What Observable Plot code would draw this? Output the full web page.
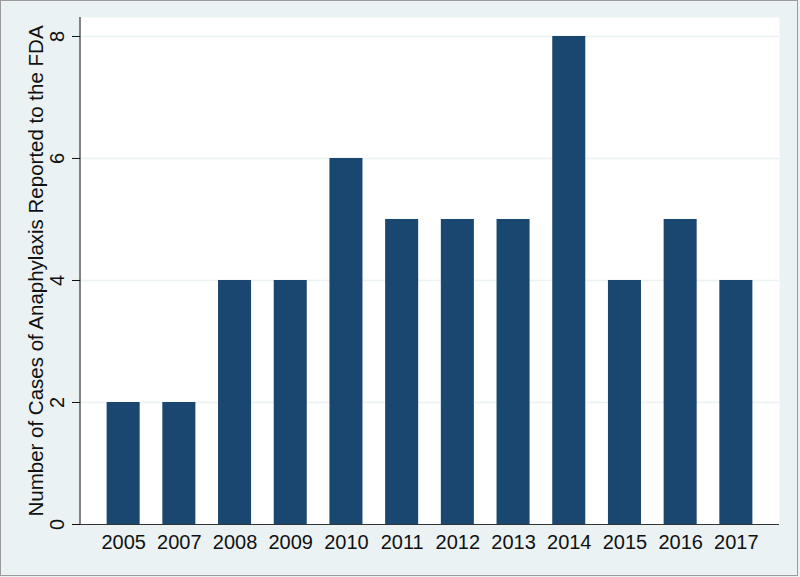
<!DOCTYPE html>
<html>
<head>
<meta charset="utf-8">
<script src="https://cdn.jsdelivr.net/npm/d3@7"></script>
<script src="https://cdn.jsdelivr.net/npm/@observablehq/plot@0.6"></script>
<style>
  html, body { margin: 0; padding: 0; background: #eaf2f3; }
  #wrap { position: relative; width: 800px; height: 577px; }
  #border { position: absolute; left: 0; top: 0; width: 798px; height: 576px; border: 1px solid #9a9a9a; box-sizing: border-box; pointer-events: none; }
</style>
</head>
<body>
<div id="wrap"><div id="chart"></div><div id="border"></div></div>
<script>
const years = ["2005", "2007", "2008", "2009", "2010", "2011", "2012", "2013", "2014", "2015", "2016", "2017"];
const cases = [2, 2, 4, 4, 6, 5, 5, 5, 8, 4, 5, 4];
const yTicks = [0, 2, 4, 6, 8];
const gridTicks = [2, 4, 6, 8];
const yTitle = "Number of Cases of Anaphylaxis Reported to the FDA";

const data = years.map((y, i) => ({year: y, cases: cases[i]}));

const leftLine = (index, scales, values, dims) => {
  const ns = "http://www.w3.org/2000/svg";
  const l = document.createElementNS(ns, "line");
  l.setAttribute("x1", dims.marginLeft);
  l.setAttribute("x2", dims.marginLeft);
  l.setAttribute("y1", dims.marginTop);
  l.setAttribute("y2", dims.height - dims.marginBottom);
  l.setAttribute("stroke", "#111");
  l.setAttribute("stroke-width", 1);
  return l;
};

const chart = Plot.plot({
  width: 800,
  height: 577,
  marginLeft: 80,
  marginRight: 21,
  marginTop: 17,
  marginBottom: 53,
  style: {background: "#eaf2f3", fontFamily: "'Liberation Sans', Arial, Helvetica, sans-serif", fontSize: "20px", color: "#111"},
  x: {domain: years, type: "band", paddingInner: 0.407, paddingOuter: 0.478, round: false, label: null},
  y: {domain: [0, 8.311], label: null},
  marks: [
    Plot.frame({fill: "white", stroke: "none"}),
    Plot.gridY(gridTicks, {stroke: "#eaf2f3", strokeOpacity: 1, strokeWidth: 1.5}),
    Plot.barY(data, {x: "year", y: "cases", fill: "#1a476f"}),
    Plot.ruleY([0], {stroke: "#333", strokeWidth: 1}),
    leftLine,
    Plot.axisY({ticks: yTicks, tickSize: 8, tickFormat: () => "", label: null, stroke: "#111"}),
    Plot.text(yTicks, {y: d => d, text: d => String(d), frameAnchor: "left", dx: -17, rotate: -90, textAnchor: "middle", lineAnchor: "bottom", fontSize: 20, fill: "#111"}),
    Plot.text([yTitle], {text: d => d, frameAnchor: "left", dx: -38, rotate: -90, textAnchor: "middle", lineAnchor: "bottom", fontSize: 20.5, fill: "#111"}),
    Plot.axisX({tickSize: 0, tickPadding: 10, label: null, fill: "#111"})
  ]
});
document.getElementById("chart").appendChild(chart);
</script>
</body>
</html>
